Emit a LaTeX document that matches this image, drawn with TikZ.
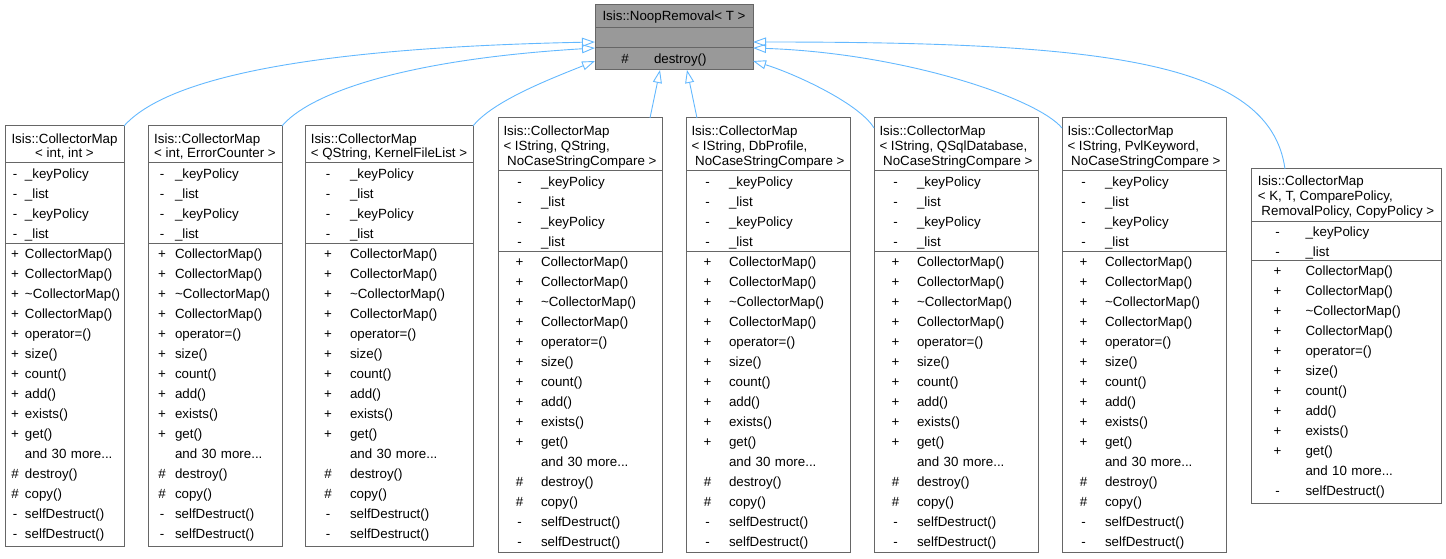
\documentclass[tikz,border=0pt]{standalone}
\usepackage{fontspec}
\setmainfont{Liberation Sans}
\usepackage{array}
\usetikzlibrary{arrows.meta,positioning}
\definecolor{boxline}{HTML}{666666}
\definecolor{basefill}{HTML}{999999}
\definecolor{edgeblue}{HTML}{63B8FF}
\newcolumntype{M}[2]{@{\hspace{#1}}w{c}{8pt}@{\hspace{#2}}l}
\tikzset{
  part/.style={draw=boxline, fill=white, line width=1pt, inner sep=0pt, outer sep=0pt,
    font=\fontsize{13.33}{20}\selectfont, align=left, text height=15.5pt},
  head/.style={part, inner xsep=3pt, font=\fontsize{13.33}{15}\selectfont, text height=47pt, text depth=6pt},
  inherit/.style={draw=edgeblue, line width=0.9pt, -{Triangle[open, length=13pt, width=9pt]}}
}
\begin{document}
\begin{tikzpicture}[x=1pt, y=-1pt]
  \useasboundingbox (0,0) rectangle (1446,559);
  \node[head, fill=basefill, anchor=north west, minimum width=158pt, align=center,
    text height=16pt, text depth=7pt] (noop) at (595,5) {Isis::NoopRemoval< T >};
  \node[part, fill=basefill, text width=158pt, text height=0pt, text depth=20pt,
    below=0pt of noop] (noop-a) {};
  \node[part, fill=basefill, text width=158pt, text height=15.5pt, text depth=6.5pt,
    below=0pt of noop-a] (noop-m) {\begin{tabular}[t]{M{26pt}{25pt}}\# & destroy()\end{tabular}};

  \node[head, anchor=north west, minimum width=119pt, align=center, font=\fontsize{13.33}{14}\selectfont,
    text height=31.5pt, text depth=5.5pt] (intint) at (5,126) {Isis::CollectorMap\\< int, int >};
  \node[part, text width=119pt, text depth=64.5pt, below=0pt of intint] (intint-a)
    {\begin{tabular}[t]{M{6pt}{6pt}}
      - & \_keyPolicy\\ - & \_list\\ - & \_keyPolicy\\ - & \_list
    \end{tabular}};
  \node[part, text width=119pt, text depth=287.5pt, below=0pt of intint-a] (intint-m)
    {\begin{tabular}[t]{M{6pt}{6pt}}
      + & CollectorMap()\\ + & CollectorMap()\\ + & \textasciitilde CollectorMap()\\ + & CollectorMap()\\
      + & operator=()\\ + & size()\\ + & count()\\ + & add()\\ + & exists()\\ + & get()\\
      & and 30 more...\\ \# & destroy()\\ \# & copy()\\ - & selfDestruct()\\ - & selfDestruct()
    \end{tabular}};

  \node[head, anchor=north west, minimum width=134pt, font=\fontsize{13.33}{14}\selectfont,
    text height=31.5pt, text depth=5.5pt] (interr) at (148,126) {Isis::CollectorMap\\< int, ErrorCounter >};
  \node[part, text width=134pt, text depth=64.5pt, below=0pt of interr] (interr-a)
    {\begin{tabular}[t]{M{10pt}{9pt}}
      - & \_keyPolicy\\ - & \_list\\ - & \_keyPolicy\\ - & \_list
    \end{tabular}};
  \node[part, text width=134pt, text depth=287.5pt, below=0pt of interr-a] (interr-m)
    {\begin{tabular}[t]{M{10pt}{9pt}}
      + & CollectorMap()\\ + & CollectorMap()\\ + & \textasciitilde CollectorMap()\\ + & CollectorMap()\\
      + & operator=()\\ + & size()\\ + & count()\\ + & add()\\ + & exists()\\ + & get()\\
      & and 30 more...\\ \# & destroy()\\ \# & copy()\\ - & selfDestruct()\\ - & selfDestruct()
    \end{tabular}};

  \node[head, anchor=north west, minimum width=168pt, font=\fontsize{13.33}{14}\selectfont,
    text height=31.5pt, text depth=5.5pt] (qkfl) at (305,126) {Isis::CollectorMap\\< QString, KernelFileList >};
  \node[part, text width=168pt, text depth=64.5pt, below=0pt of qkfl] (qkfl-a)
    {\begin{tabular}[t]{M{19pt}{18pt}}
      - & \_keyPolicy\\ - & \_list\\ - & \_keyPolicy\\ - & \_list
    \end{tabular}};
  \node[part, text width=168pt, text depth=287.5pt, below=0pt of qkfl-a] (qkfl-m)
    {\begin{tabular}[t]{M{19pt}{18pt}}
      + & CollectorMap()\\ + & CollectorMap()\\ + & \textasciitilde CollectorMap()\\ + & CollectorMap()\\
      + & operator=()\\ + & size()\\ + & count()\\ + & add()\\ + & exists()\\ + & get()\\
      & and 30 more...\\ \# & destroy()\\ \# & copy()\\ - & selfDestruct()\\ - & selfDestruct()
    \end{tabular}};

  \node[head, anchor=north west, minimum width=164pt] (qstr) at (498,118)
    {Isis::CollectorMap\\< IString, QString,\\\hspace*{3.7pt}NoCaseStringCompare >};
  \node[part, text width=164pt, text depth=64.5pt, below=0pt of qstr] (qstr-a)
    {\begin{tabular}[t]{M{17.5pt}{17.5pt}}
      - & \_keyPolicy\\ - & \_list\\ - & \_keyPolicy\\ - & \_list
    \end{tabular}};
  \node[part, text width=164pt, text depth=285.5pt, below=0pt of qstr-a] (qstr-m)
    {\begin{tabular}[t]{M{17.5pt}{17.5pt}}
      + & CollectorMap()\\ + & CollectorMap()\\ + & \textasciitilde CollectorMap()\\ + & CollectorMap()\\
      + & operator=()\\ + & size()\\ + & count()\\ + & add()\\ + & exists()\\ + & get()\\
      & and 30 more...\\ \# & destroy()\\ \# & copy()\\ - & selfDestruct()\\ - & selfDestruct()
    \end{tabular}};

  \node[head, anchor=north west, minimum width=164pt] (dbprof) at (686,118)
    {Isis::CollectorMap\\< IString, DbProfile,\\\hspace*{3.7pt}NoCaseStringCompare >};
  \node[part, text width=164pt, text depth=64.5pt, below=0pt of dbprof] (dbprof-a)
    {\begin{tabular}[t]{M{17.5pt}{17.5pt}}
      - & \_keyPolicy\\ - & \_list\\ - & \_keyPolicy\\ - & \_list
    \end{tabular}};
  \node[part, text width=164pt, text depth=285.5pt, below=0pt of dbprof-a] (dbprof-m)
    {\begin{tabular}[t]{M{17.5pt}{17.5pt}}
      + & CollectorMap()\\ + & CollectorMap()\\ + & \textasciitilde CollectorMap()\\ + & CollectorMap()\\
      + & operator=()\\ + & size()\\ + & count()\\ + & add()\\ + & exists()\\ + & get()\\
      & and 30 more...\\ \# & destroy()\\ \# & copy()\\ - & selfDestruct()\\ - & selfDestruct()
    \end{tabular}};

  \node[head, anchor=north west, minimum width=164pt] (qsql) at (874,118)
    {Isis::CollectorMap\\< IString, QSqlDatabase,\\\hspace*{3.7pt}NoCaseStringCompare >};
  \node[part, text width=164pt, text depth=64.5pt, below=0pt of qsql] (qsql-a)
    {\begin{tabular}[t]{M{17.5pt}{17.5pt}}
      - & \_keyPolicy\\ - & \_list\\ - & \_keyPolicy\\ - & \_list
    \end{tabular}};
  \node[part, text width=164pt, text depth=285.5pt, below=0pt of qsql-a] (qsql-m)
    {\begin{tabular}[t]{M{17.5pt}{17.5pt}}
      + & CollectorMap()\\ + & CollectorMap()\\ + & \textasciitilde CollectorMap()\\ + & CollectorMap()\\
      + & operator=()\\ + & size()\\ + & count()\\ + & add()\\ + & exists()\\ + & get()\\
      & and 30 more...\\ \# & destroy()\\ \# & copy()\\ - & selfDestruct()\\ - & selfDestruct()
    \end{tabular}};

  \node[head, anchor=north west, minimum width=164pt] (pvl) at (1062,118)
    {Isis::CollectorMap\\< IString, PvlKeyword,\\\hspace*{3.7pt}NoCaseStringCompare >};
  \node[part, text width=164pt, text depth=64.5pt, below=0pt of pvl] (pvl-a)
    {\begin{tabular}[t]{M{17.5pt}{17.5pt}}
      - & \_keyPolicy\\ - & \_list\\ - & \_keyPolicy\\ - & \_list
    \end{tabular}};
  \node[part, text width=164pt, text depth=285.5pt, below=0pt of pvl-a] (pvl-m)
    {\begin{tabular}[t]{M{17.5pt}{17.5pt}}
      + & CollectorMap()\\ + & CollectorMap()\\ + & \textasciitilde CollectorMap()\\ + & CollectorMap()\\
      + & operator=()\\ + & size()\\ + & count()\\ + & add()\\ + & exists()\\ + & get()\\
      & and 30 more...\\ \# & destroy()\\ \# & copy()\\ - & selfDestruct()\\ - & selfDestruct()
    \end{tabular}};

  \node[head, anchor=north west, minimum width=190pt, text height=46pt] (gen) at (1251,169)
    {Isis::CollectorMap\\< K, T, ComparePolicy,\\\hspace*{3.7pt}RemovalPolicy, CopyPolicy >};
  \node[part, text width=190pt, text depth=23.5pt, below=0pt of gen] (gen-a)
    {\begin{tabular}[t]{M{22.5pt}{24pt}}
      - & \_keyPolicy\\ - & \_list
    \end{tabular}};
  \node[part, text width=190pt, text depth=227.5pt, below=0pt of gen-a] (gen-m)
    {\begin{tabular}[t]{M{22.5pt}{24pt}}
      + & CollectorMap()\\ + & CollectorMap()\\ + & \textasciitilde CollectorMap()\\ + & CollectorMap()\\
      + & operator=()\\ + & size()\\ + & count()\\ + & add()\\ + & exists()\\ + & get()\\
      & and 10 more...\\ - & selfDestruct()
    \end{tabular}};

  \draw[inherit] (intint.north east) .. controls +(40,-45) and +(-300,6) .. ([yshift=-4pt]noop-a.west);
  \draw[inherit] (interr.north east) .. controls +(25,-30) and +(-200,12) .. (noop-a.south west);
  \draw[inherit] (qkfl.north east) .. controls +(20,-25) and +(-45,18) .. ([yshift=-2pt]noop-m.west);
  \draw[inherit] ([xshift=-12pt]qstr.north east) -- ([xshift=-14pt]noop-m.south);
  \draw[inherit] ([xshift=11pt]dbprof.north west) -- ([xshift=13pt]noop-m.south);
  \draw[inherit] ([yshift=-10pt]qsql.north west) .. controls +(-15,-25) and +(40,12) .. ([yshift=-2pt]noop-m.east);
  \draw[inherit] ([yshift=-10pt]pvl.north west) .. controls +(-25,-30) and +(150,5) .. (noop-a.south east);
  \draw[inherit] ([xshift=34pt]gen.north west) .. controls +(-15,-109) and +(347,0) .. ([yshift=-4pt]noop-a.east);
\end{tikzpicture}
\end{document}
